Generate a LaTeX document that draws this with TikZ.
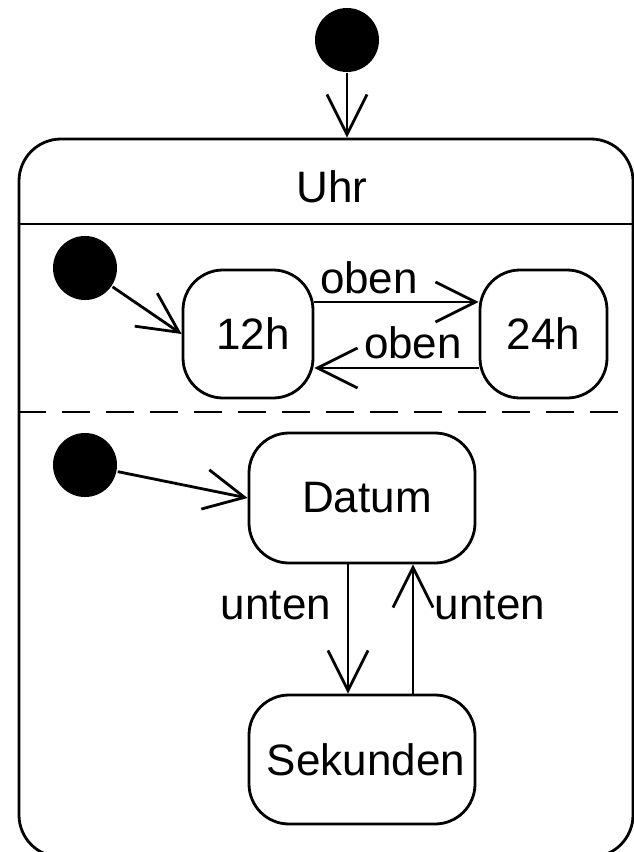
\documentclass[tikz,border=0pt]{standalone}
\usepackage{fontspec}
\setmainfont{Liberation Sans}
\usetikzlibrary{arrows.meta}
\begin{document}
\begin{tikzpicture}[x=1pt,y=-1pt,line width=2.8pt,
  state/.style={draw,rounded corners=40pt,inner sep=0pt,font=\fontsize{44}{50}\selectfont},
  initial/.style={circle,fill=black,minimum size=64pt,inner sep=0pt},
  tr/.style={-{Straight Barb[length=40pt,width=40pt]}},
  lbl/.style={font=\fontsize{44}{50}\selectfont,inner sep=0pt,anchor=base}]
\useasboundingbox (0,0) rectangle (634,852);
\begin{scope}
\clip (0,0) rectangle (634,852);
% outer composite state
\node[draw,rounded corners=42pt,minimum width=614pt,minimum height=718pt,inner sep=0pt] (uhr) at (326,498) {};
\end{scope}
\node[lbl] (uhrt) at (332,202) {Uhr};
\draw (uhr.west |- 0,224) -- (uhr.east |- 0,224);
\draw[dash pattern=on 28pt off 16pt] (uhr.west |- 0,412) -- (uhr.east |- 0,412);
% initial states
\node[initial] (i0) at (347,40) {};
\node[initial] (i1) at (85,268) {};
\node[initial] (i2) at (85,465) {};
% states
\node[state,minimum width=130pt,minimum height=128pt] (h12) at (248,334) {\hspace*{10pt}12h};
\node[state,minimum width=127pt,minimum height=128pt] (h24) at (543.5,334) {24h};
\node[state,minimum width=226pt,minimum height=130pt] (datum) at (362,498) {\hspace*{10pt}Datum};
\node[state,minimum width=226pt,minimum height=129pt] (sek) at (362,759.5) {\hspace*{8pt}Sekunden};
% transitions
\draw[tr] (i0) -- (i0 |- uhr.north);
\draw[tr] (i1) -- (h12.west);
\draw[tr] (i2) -- (datum.west);
\draw[tr] (h12.east |- 0,302) -- (h24.west |- 0,302);
\draw[tr] (h24.west |- 0,368) -- (h12.east |- 0,368);
\draw[tr] (datum.south -| 348,0) -- (sek.north -| 348,0);
\draw[tr] (sek.north -| 413,0) -- (datum.south -| 413,0);
% labels
\node[lbl] (l1) at (369,293) {oben};
\node[lbl] (l2) at (413,358) {oben};
\node[lbl] (l3) at (276,619) {unten};
\node[lbl] (l4) at (490,619) {unten};
\end{tikzpicture}
\end{document}
